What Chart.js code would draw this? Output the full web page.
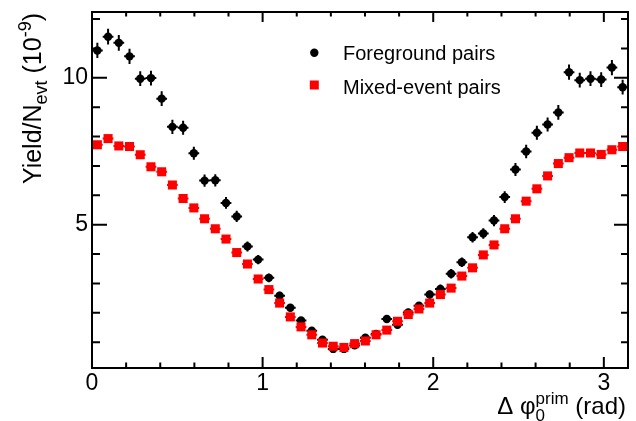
<!DOCTYPE html>
<html>
<head>
<meta charset="utf-8">
<title>Foreground vs mixed-event pairs</title>
<script src="https://cdn.jsdelivr.net/npm/chart.js@4.4.1/dist/chart.umd.min.js"></script>
<style>
  html, body { margin: 0; padding: 0; background: #fff; }
  #chart { display: block; }
</style>
</head>
<body>
<canvas id="chart" width="636" height="421"></canvas>
<script>
// Δφ0(prim) bin centres, 50 bins over [0, π]
const phiBins = [
  0.0314, 0.0942, 0.1571, 0.2199, 0.2827, 0.3456, 0.4084, 0.4712, 0.5341, 0.5969,
  0.6597, 0.7226, 0.7854, 0.8482, 0.9111, 0.9739, 1.0367, 1.0996, 1.1624, 1.2252,
  1.2881, 1.3509, 1.4137, 1.4765, 1.5394, 1.6022, 1.6650, 1.7279, 1.7907, 1.8535,
  1.9164, 1.9792, 2.0420, 2.1049, 2.1677, 2.2305, 2.2934, 2.3562, 2.4190, 2.4819,
  2.5447, 2.6075, 2.6704, 2.7332, 2.7960, 2.8588, 2.9217, 2.9845, 3.0473, 3.1102
];
const binHalfWidth = 0.0314;

// Foreground pairs (10^-9)
const foreground = [
  10.93, 11.40, 11.19, 10.73, 9.97, 9.99, 9.29, 8.33, 8.30, 7.43,
  6.50, 6.51, 5.74, 5.28, 4.26, 3.81, 3.19, 2.58, 2.17, 1.74,
  1.39, 1.08, 0.77, 0.77, 0.89, 1.15, 1.28, 1.79, 1.59, 2.01,
  2.24, 2.62, 2.81, 3.33, 3.72, 4.57, 4.70, 5.14, 5.94, 6.88,
  7.49, 8.13, 8.41, 8.82, 10.19, 9.92, 9.97, 9.94, 10.35, 9.68
];
const foregroundErr = [
  0.26, 0.27, 0.27, 0.26, 0.25, 0.25, 0.25, 0.24, 0.24, 0.22,
  0.21, 0.21, 0.20, 0.19, 0.17, 0.16, 0.15, 0.14, 0.13, 0.12,
  0.11, 0.10, 0.09, 0.09, 0.09, 0.10, 0.11, 0.12, 0.12, 0.13,
  0.13, 0.14, 0.15, 0.16, 0.16, 0.18, 0.18, 0.19, 0.20, 0.22,
  0.23, 0.24, 0.24, 0.25, 0.26, 0.25, 0.25, 0.25, 0.26, 0.25
];

// Mixed-event pairs (10^-9)
const mixedEvent = [
  7.72, 7.93, 7.68, 7.66, 7.38, 6.97, 6.80, 6.35, 5.89, 5.57,
  5.20, 4.86, 4.51, 4.05, 3.66, 3.15, 2.79, 2.33, 1.86, 1.52,
  1.25, 0.97, 0.86, 0.82, 0.95, 1.04, 1.25, 1.41, 1.71, 1.94,
  2.13, 2.33, 2.62, 2.84, 3.25, 3.53, 3.97, 4.31, 4.86, 5.20,
  5.80, 6.22, 6.66, 7.08, 7.28, 7.44, 7.44, 7.39, 7.55, 7.66
];

const legendLabels = ['Foreground pairs', 'Mixed-event pairs'];
const xMajorTicks = [0, 1, 2, 3];
const yMajorTicks = [5, 10];

const FONT = "'Liberation Sans', Arial, Helvetica, sans-serif";
const BLACK = '#000000';
const RED = '#ff0000';

const isMajor = (v, majors) => majors.some((m) => Math.abs(v - m) < 1e-6);

// Mixed text runs with sub/superscripts
function drawRuns(ctx, runs, x, y) {
  let cx = x;
  for (const r of runs) {
    if (r.stack) {
      let w = 0;
      for (const s of r.stack) {
        ctx.font = `${s.size}px ${FONT}`;
        ctx.fillText(s.text, cx, y + s.dy);
        w = Math.max(w, ctx.measureText(s.text).width);
      }
      cx += w;
    } else {
      ctx.font = `${r.size}px ${FONT}`;
      ctx.fillText(r.text, cx, y + r.dy);
      cx += ctx.measureText(r.text).width;
    }
  }
  return cx - x;
}

function measureRuns(ctx, runs) {
  let w = 0;
  for (const r of runs) {
    if (r.stack) {
      let m = 0;
      for (const s of r.stack) {
        ctx.font = `${s.size}px ${FONT}`;
        m = Math.max(m, ctx.measureText(s.text).width);
      }
      w += m;
    } else {
      ctx.font = `${r.size}px ${FONT}`;
      w += ctx.measureText(r.text).width;
    }
  }
  return w;
}

const rootStyle = {
  id: 'rootStyle',
  beforeDatasetsDraw(chart) {
    const { ctx, scales: { x, y } } = chart;
    ctx.save();
    ctx.lineWidth = 2;
    // foreground error bars
    ctx.strokeStyle = BLACK;
    ctx.beginPath();
    phiBins.forEach((phi, i) => {
      const px = x.getPixelForValue(phi);
      const py = y.getPixelForValue(foreground[i]);
      ctx.moveTo(px, y.getPixelForValue(foreground[i] - foregroundErr[i]));
      ctx.lineTo(px, y.getPixelForValue(foreground[i] + foregroundErr[i]));
      ctx.moveTo(x.getPixelForValue(phi - binHalfWidth), py);
      ctx.lineTo(x.getPixelForValue(phi + binHalfWidth), py);
    });
    ctx.stroke();
    // mixed-event bin widths
    ctx.strokeStyle = RED;
    ctx.beginPath();
    phiBins.forEach((phi, i) => {
      const py = y.getPixelForValue(mixedEvent[i]);
      ctx.moveTo(x.getPixelForValue(phi - binHalfWidth), py);
      ctx.lineTo(x.getPixelForValue(phi + binHalfWidth), py);
    });
    ctx.stroke();
    ctx.restore();
  },
  afterDraw(chart) {
    const { ctx, chartArea: a, scales: { x, y } } = chart;
    ctx.save();

    // frame
    ctx.strokeStyle = BLACK;
    ctx.lineWidth = 2;
    ctx.strokeRect(a.left, a.top, a.right - a.left, a.bottom - a.top);

    // inward ticks
    ctx.beginPath();
    x.ticks.forEach((t) => {
      const px = x.getPixelForValue(t.value);
      const major = isMajor(t.value, xMajorTicks);
      ctx.moveTo(px, a.bottom);
      ctx.lineTo(px, a.bottom - (major ? 11 : 5.5));
      ctx.moveTo(px, a.top);
      ctx.lineTo(px, a.top + (major ? 10 : 4.5));
    });
    y.ticks.forEach((t) => {
      const py = y.getPixelForValue(t.value);
      const major = isMajor(t.value, yMajorTicks);
      ctx.moveTo(a.left, py);
      ctx.lineTo(a.left + (major ? 15 : 8), py);
      ctx.moveTo(a.right, py);
      ctx.lineTo(a.right - (major ? 14 : 7), py);
    });
    ctx.stroke();

    // legend
    ctx.fillStyle = BLACK;
    ctx.beginPath();
    ctx.arc(314.3, 52.7, 4.2, 0, Math.PI * 2);
    ctx.fill();
    ctx.fillStyle = RED;
    ctx.fillRect(309.8, 80.5, 9, 9);
    ctx.fillStyle = BLACK;
    ctx.textBaseline = 'alphabetic';
    ctx.textAlign = 'left';
    ctx.font = `20px ${FONT}`;
    ctx.fillText(legendLabels[0], 343, 59.5);
    ctx.fillText(legendLabels[1], 343, 93.5);

    // x title: Δ φ_0^prim (rad), right-aligned to the axis end
    const xRuns = [
      { text: 'Δ φ', size: 24, dy: 0 },
      { stack: [{ text: 'prim', size: 17, dy: -10 }, { text: '0', size: 17, dy: 7 }] },
      { text: ' (rad)', size: 24, dy: 0 }
    ];
    const xw = measureRuns(ctx, xRuns);
    drawRuns(ctx, xRuns, 626 - xw, 414);

    // y title: Yield/N_evt (10^-9), rotated, ending at the top of the axis
    const yRuns = [
      { text: 'Yield/N', size: 25, dy: 0 },
      { text: 'evt', size: 18, dy: 6 },
      { text: ' (10', size: 25, dy: 0 },
      { text: '-9', size: 18, dy: -10 },
      { text: ')', size: 25, dy: 0 }
    ];
    const yw = measureRuns(ctx, yRuns);
    ctx.translate(41, a.top + 1);
    ctx.rotate(-Math.PI / 2);
    drawRuns(ctx, yRuns, -yw, 0);

    ctx.restore();
  }
};

const toXY = (vals) => vals.map((v, i) => ({ x: phiBins[i], y: v }));

// drop the half-label padding Chart.js reserves at the axis ends
const noEndPadding = (scale) => {
  scale.paddingTop = 0;
  scale.paddingBottom = 0;
  scale.paddingLeft = 0;
  scale.paddingRight = 0;
};

new Chart(document.getElementById('chart'), {
  type: 'scatter',
  data: {
    datasets: [
      {
        label: legendLabels[1],
        data: toXY(mixedEvent),
        pointStyle: 'rect',
        pointRadius: 6.4,
        pointBackgroundColor: RED,
        pointBorderWidth: 0,
        order: 0
      },
      {
        label: legendLabels[0],
        data: toXY(foreground),
        pointStyle: 'circle',
        pointRadius: 4.2,
        pointBackgroundColor: BLACK,
        pointBorderWidth: 0,
        order: 1
      }
    ]
  },
  options: {
    responsive: false,
    animation: false,
    events: [],
    layout: { padding: { top: 12, right: 8, left: 0, bottom: 0 } },
    plugins: { legend: { display: false }, tooltip: { enabled: false } },
    scales: {
      x: {
        type: 'linear',
        min: 0,
        max: Math.PI,
        grid: { display: false, drawTicks: false },
        border: { display: false },
        ticks: {
          stepSize: 0.2,
          includeBounds: false,
          autoSkip: false,
          maxRotation: 0,
          padding: 2,
          color: BLACK,
          font: { family: FONT, size: 23 },
          callback: (v) => (isMajor(v, xMajorTicks) ? String(Math.round(v)) : '')
        },
        afterFit: (scale) => { scale.height = 53; noEndPadding(scale); }
      },
      y: {
        type: 'linear',
        min: 0.12,
        max: 12.24,
        grid: { display: false, drawTicks: false },
        border: { display: false },
        ticks: {
          stepSize: 1,
          includeBounds: false,
          autoSkip: false,
          padding: 4,
          color: BLACK,
          font: { family: FONT, size: 23 },
          callback: (v) => (isMajor(v, yMajorTicks) ? String(Math.round(v)) : '')
        },
        afterFit: (scale) => { scale.width = 92; noEndPadding(scale); }
      }
    }
  },
  plugins: [rootStyle]
});
</script>
</body>
</html>
